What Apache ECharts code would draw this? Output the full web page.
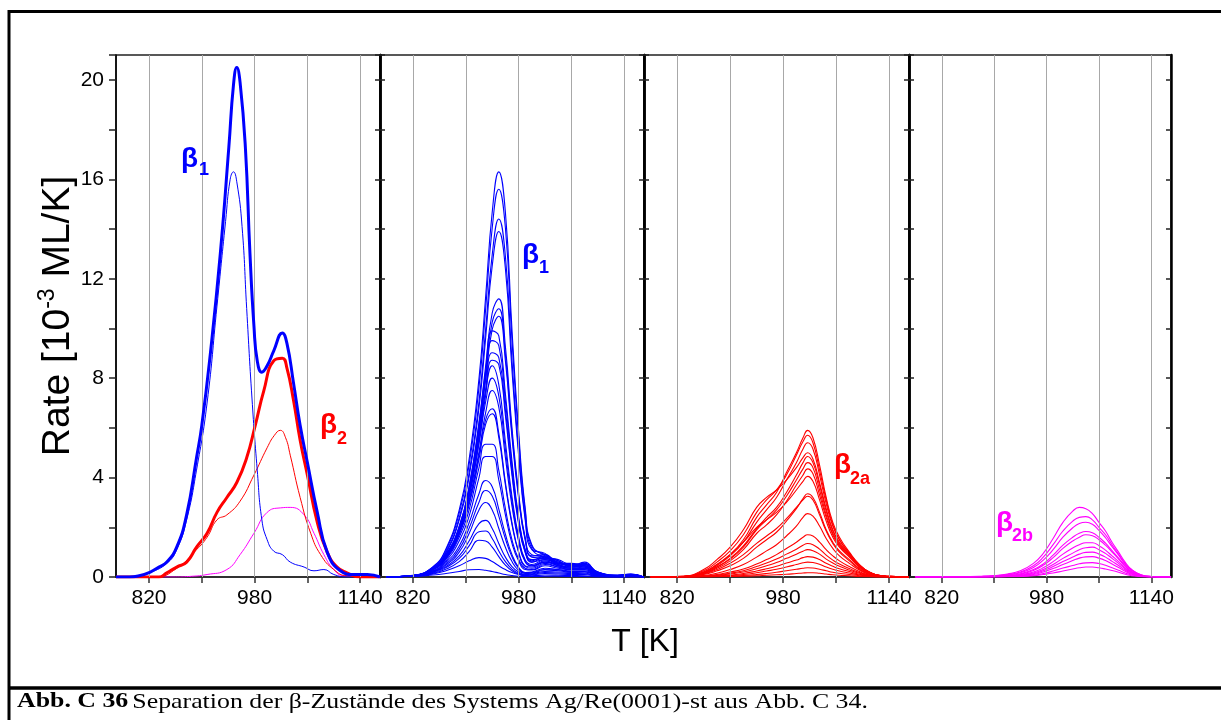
<!DOCTYPE html>
<html>
<head>
<meta charset="utf-8">
<script src="https://cdn.jsdelivr.net/npm/echarts@6/dist/echarts.min.js"></script>
<style>
html,body{margin:0;padding:0;background:#fff;}
#chart{width:1221px;height:720px;}
</style>
</head>
<body>
<div id="chart"></div>
<script>
// ---------- Data ----------
const xTickValues = [820, 900, 980, 1060, 1140];
const xLabelValues = [820, 980, 1140];

// Panel 1 (total and separated states)
const p1ThickBlueT = [770, 790, 805, 822, 835, 847, 862, 877, 892, 900, 913, 928, 941, 948, 953, 958, 966, 973, 979, 984, 991, 999, 1009, 1022, 1029, 1039, 1049, 1060, 1075, 1090, 1110, 1130, 1151, 1170];
const p1ThickBlue  = [0, 0, 0.05, 0.2, 0.4, 0.6, 1.2, 2.5, 4.8, 6.1, 9.0, 13.0, 17.3, 19.8, 20.5, 19.9, 17.3, 13.0, 10.1, 8.7, 8.24, 8.5, 9.1, 9.82, 9.4, 7.8, 6.1, 4.6, 2.6, 1.0, 0.25, 0.1, 0.1, 0];
const p1ThinBlueT = [770, 805, 822, 847, 862, 877, 892, 908, 923, 936, 943, 948, 953, 961, 968, 976, 984, 991, 999, 1009, 1022, 1034, 1055, 1070, 1085, 1100, 1120, 1170];
const p1ThinBlue  = [0, 0.05, 0.18, 0.55, 1.1, 2.3, 4.3, 7.0, 10.9, 14.3, 16.0, 16.3, 15.9, 14.1, 10.8, 7.2, 4.3, 2.3, 1.5, 1.04, 0.9, 0.6, 0.4, 0.25, 0.3, 0.1, 0, 0];
const p1ThickRedT = [770, 835, 847, 862, 877, 892, 908, 923, 938, 953, 968, 981, 994, 1009, 1022, 1029, 1039, 1049, 1060, 1075, 1090, 1105, 1120, 1140, 1170];
const p1ThickRed  = [0, 0, 0.17, 0.4, 0.6, 1.2, 1.76, 2.6, 3.2, 3.8, 4.8, 6.1, 7.5, 8.7, 8.8, 8.4, 7.1, 5.5, 4.1, 2.2, 1.0, 0.4, 0.17, 0, 0];
const p1ThinRedT = [770, 830, 862, 892, 908, 923, 938, 958, 979, 999, 1010, 1019, 1027, 1034, 1049, 1065, 1080, 1100, 1120, 1170];
const p1ThinRed  = [0, 0, 0.35, 1.1, 1.6, 2.3, 2.5, 3.05, 4.1, 5.2, 5.7, 5.9, 5.6, 4.9, 3.2, 1.76, 0.9, 0.3, 0.05, 0];
const p1MagentaT = [770, 860, 880, 908, 938, 958, 979, 999, 1019, 1034, 1055, 1070, 1085, 1100, 1115, 1170];
const p1Magenta  = [0, 0, 0.02, 0.1, 0.3, 0.9, 1.76, 2.6, 2.78, 2.8, 2.5, 1.76, 0.9, 0.3, 0.05, 0];

// Panel 2 (beta1 series)
const p2T = [780, 820, 850, 870, 890, 905, 920, 930, 940, 950, 960, 970, 980, 990, 1000, 1020, 1040, 1060, 1080, 1100, 1130, 1150, 1170];
const p2Rates = [
  [0, 0.07, 0.41, 1.14, 2.69, 4.73, 7.99, 11.25, 14.67, 16.3, 14.67, 9.94, 5.87, 2.77, 1.3, 0.85, 0.6, 0.5, 0.55, 0.2, 0.08, 0.12, 0],
  [0, 0.06, 0.39, 1.09, 2.57, 4.52, 7.64, 10.76, 14.04, 15.6, 14.04, 9.52, 5.62, 2.65, 1.25, 0.9, 0.65, 0.45, 0.6, 0.18, 0.07, 0.1, 0],
  [0, 0.06, 0.36, 1.01, 2.38, 4.18, 7.06, 9.94, 12.96, 14.4, 12.9, 8.7, 5.1, 2.4, 1.15, 0.8, 0.7, 0.5, 0.5, 0.15, 0.06, 0.1, 0],
  [0, 0.06, 0.35, 0.97, 2.29, 4.03, 6.81, 9.59, 12.51, 13.9, 12.4, 8.3, 4.9, 2.3, 1.1, 0.95, 0.55, 0.55, 0.45, 0.2, 0.05, 0.1, 0],
  [0, 0.06, 0.34, 0.9, 2.03, 3.62, 6.22, 8.48, 10.62, 11.19, 9.27, 5.99, 3.39, 1.58, 0.9, 0.8, 0.6, 0.45, 0.5, 0.2, 0.06, 0.1, 0],
  [0, 0.05, 0.33, 0.87, 1.96, 3.49, 6.0, 8.18, 10.25, 10.79, 8.94, 5.78, 3.27, 1.53, 0.85, 0.9, 0.55, 0.5, 0.45, 0.15, 0.05, 0.12, 0],
  [0, 0.05, 0.32, 0.85, 1.91, 3.39, 5.83, 7.95, 9.96, 10.49, 8.69, 5.62, 3.18, 1.48, 0.8, 0.75, 0.65, 0.4, 0.5, 0.18, 0.05, 0.08, 0],
  [0, 0.06, 0.35, 0.91, 2.02, 3.64, 6.16, 8.28, 9.9, 9.7, 7.37, 4.65, 2.42, 1.11, 0.7, 0.75, 0.55, 0.45, 0.45, 0.15, 0.05, 0.08, 0],
  [0, 0.06, 0.34, 0.87, 1.94, 3.49, 5.92, 7.95, 9.51, 9.31, 7.08, 4.46, 2.33, 1.07, 0.65, 0.85, 0.5, 0.4, 0.5, 0.15, 0.05, 0.1, 0],
  [0, 0.05, 0.32, 0.83, 1.84, 3.31, 5.61, 7.54, 9.02, 8.83, 6.72, 4.23, 2.21, 1.01, 0.6, 0.7, 0.55, 0.45, 0.4, 0.12, 0.04, 0.08, 0],
  [0, 0.05, 0.31, 0.8, 1.78, 3.2, 5.43, 7.3, 8.72, 8.54, 6.5, 4.09, 2.14, 0.98, 0.6, 0.8, 0.45, 0.4, 0.45, 0.12, 0.04, 0.06, 0],
  [0, 0.06, 0.34, 0.85, 1.96, 3.49, 5.7, 7.48, 8.5, 7.74, 5.44, 3.23, 1.62, 0.68, 0.5, 0.7, 0.5, 0.4, 0.4, 0.12, 0.04, 0.06, 0],
  [0, 0.06, 0.32, 0.8, 1.84, 3.28, 5.36, 7.04, 8.0, 7.28, 5.12, 3.04, 1.52, 0.64, 0.45, 0.6, 0.5, 0.35, 0.4, 0.1, 0.03, 0.06, 0],
  [0, 0.05, 0.3, 0.75, 1.73, 3.08, 5.03, 6.6, 7.5, 6.83, 4.8, 2.85, 1.43, 0.6, 0.45, 0.65, 0.45, 0.35, 0.35, 0.1, 0.03, 0.05, 0],
  [0, 0.05, 0.31, 0.82, 1.77, 2.99, 4.9, 6.32, 6.77, 5.78, 3.81, 2.18, 1.02, 0.44, 0.4, 0.6, 0.45, 0.35, 0.35, 0.1, 0.03, 0.05, 0],
  [0, 0.05, 0.3, 0.79, 1.72, 2.9, 4.75, 6.14, 6.57, 5.61, 3.7, 2.11, 0.99, 0.43, 0.35, 0.55, 0.4, 0.3, 0.35, 0.08, 0.02, 0.05, 0],
  [0, 0.05, 0.28, 0.72, 1.6, 2.7, 4.4, 5.34, 5.34, 4.29, 2.75, 1.49, 0.72, 0.35, 0.3, 0.5, 0.4, 0.3, 0.3, 0.08, 0.02, 0.04, 0],
  [0, 0.05, 0.25, 0.65, 1.45, 2.45, 4.0, 4.85, 4.85, 3.9, 2.5, 1.35, 0.65, 0.3, 0.28, 0.45, 0.35, 0.3, 0.3, 0.07, 0.02, 0.04, 0],
  [0, 0.05, 0.23, 0.59, 1.25, 2.18, 3.35, 3.88, 3.63, 2.73, 1.72, 0.9, 0.39, 0.18, 0.2, 0.35, 0.3, 0.25, 0.25, 0.06, 0.02, 0.03, 0],
  [0, 0.04, 0.21, 0.53, 1.12, 1.96, 3.01, 3.48, 3.26, 2.45, 1.54, 0.81, 0.35, 0.16, 0.18, 0.3, 0.28, 0.22, 0.22, 0.05, 0.02, 0.03, 0],
  [0, 0.04, 0.2, 0.48, 1.0, 1.75, 2.7, 3.0, 2.7, 1.95, 1.2, 0.62, 0.27, 0.14, 0.15, 0.28, 0.25, 0.2, 0.2, 0.05, 0.01, 0.03, 0],
  [0, 0.04, 0.18, 0.42, 0.85, 1.45, 2.15, 2.28, 1.95, 1.35, 0.8, 0.42, 0.2, 0.1, 0.12, 0.22, 0.2, 0.18, 0.16, 0.04, 0.01, 0.02, 0],
  [0, 0.04, 0.16, 0.38, 0.75, 1.25, 1.82, 1.85, 1.55, 1.05, 0.62, 0.32, 0.15, 0.08, 0.1, 0.18, 0.16, 0.14, 0.13, 0.03, 0.01, 0.02, 0],
  [0, 0.03, 0.14, 0.32, 0.62, 1.02, 1.48, 1.45, 1.2, 0.82, 0.48, 0.25, 0.12, 0.06, 0.08, 0.14, 0.12, 0.1, 0.1, 0.02, 0.01, 0.02, 0],
  [0, 0.03, 0.12, 0.25, 0.45, 0.65, 0.78, 0.75, 0.62, 0.45, 0.3, 0.18, 0.1, 0.05, 0.05, 0.08, 0.07, 0.06, 0.05, 0.01, 0, 0.01, 0],
  [0, 0.02, 0.08, 0.14, 0.22, 0.29, 0.3, 0.27, 0.22, 0.16, 0.1, 0.06, 0.03, 0.02, 0.02, 0.03, 0.03, 0.02, 0.02, 0, 0, 0, 0]
];

// Panel 3 (beta2a series)
const p3T = [780, 830, 860, 880, 900, 920, 940, 955, 970, 985, 1000, 1010, 1017, 1025, 1035, 1045, 1055, 1065, 1080, 1095, 1110, 1130, 1150, 1170];
const p3Rates = [
  [0, 0.02, 0.2, 0.5, 0.9, 1.5, 2.4, 2.9, 3.4, 4.2, 5.0, 5.6, 5.9, 5.6, 4.5, 3.2, 2.2, 1.6, 1.0, 0.5, 0.2, 0.05, 0.02, 0],
  [0, 0.03, 0.25, 0.6, 1.05, 1.7, 2.6, 3.1, 3.5, 4.1, 4.9, 5.45, 5.7, 5.4, 4.3, 3.1, 2.1, 1.5, 0.95, 0.5, 0.2, 0.05, 0.02, 0],
  [0, 0.02, 0.18, 0.45, 0.85, 1.4, 2.2, 2.7, 3.2, 3.9, 4.6, 5.15, 5.4, 5.15, 4.1, 2.95, 2.05, 1.5, 0.95, 0.5, 0.2, 0.05, 0.02, 0],
  [0, 0.03, 0.3, 0.7, 1.2, 1.9, 2.8, 3.2, 3.5, 3.9, 4.4, 4.8, 5.0, 4.75, 3.8, 2.75, 1.9, 1.4, 0.9, 0.45, 0.18, 0.05, 0.02, 0],
  [0, 0.02, 0.15, 0.4, 0.75, 1.25, 1.95, 2.4, 2.8, 3.4, 4.1, 4.6, 4.85, 4.6, 3.7, 2.65, 1.85, 1.35, 0.9, 0.45, 0.18, 0.04, 0.01, 0],
  [0, 0.02, 0.16, 0.4, 0.72, 1.2, 1.9, 2.3, 2.7, 3.25, 3.9, 4.35, 4.6, 4.4, 3.5, 2.5, 1.75, 1.3, 0.85, 0.45, 0.18, 0.04, 0.01, 0],
  [0, 0.02, 0.14, 0.35, 0.65, 1.1, 1.75, 2.1, 2.5, 3.05, 3.7, 4.1, 4.35, 4.15, 3.3, 2.4, 1.7, 1.25, 0.85, 0.42, 0.16, 0.04, 0.01, 0],
  [0, 0.03, 0.2, 0.5, 0.9, 1.4, 2.0, 2.3, 2.6, 3.0, 3.5, 3.85, 4.05, 3.85, 3.1, 2.25, 1.6, 1.2, 0.8, 0.4, 0.16, 0.04, 0.01, 0],
  [0, 0.02, 0.1, 0.25, 0.45, 0.75, 1.2, 1.5, 1.8, 2.25, 2.75, 3.15, 3.35, 3.2, 2.6, 1.9, 1.4, 1.05, 0.7, 0.35, 0.14, 0.03, 0.01, 0],
  [0, 0.02, 0.12, 0.3, 0.55, 0.9, 1.35, 1.65, 1.95, 2.35, 2.8, 3.1, 3.25, 3.1, 2.5, 1.85, 1.35, 1.0, 0.65, 0.32, 0.12, 0.03, 0.01, 0],
  [0, 0.01, 0.06, 0.15, 0.3, 0.5, 0.8, 1.05, 1.3, 1.65, 2.05, 2.4, 2.55, 2.45, 2.05, 1.55, 1.15, 0.85, 0.55, 0.28, 0.1, 0.02, 0.01, 0],
  [0, 0.01, 0.04, 0.1, 0.2, 0.32, 0.52, 0.7, 0.9, 1.15, 1.4, 1.6, 1.7, 1.65, 1.4, 1.1, 0.85, 0.65, 0.42, 0.22, 0.08, 0.02, 0, 0],
  [0, 0.01, 0.03, 0.08, 0.15, 0.25, 0.42, 0.56, 0.72, 0.92, 1.12, 1.28, 1.35, 1.3, 1.12, 0.88, 0.68, 0.52, 0.34, 0.18, 0.07, 0.02, 0, 0],
  [0, 0, 0.02, 0.06, 0.12, 0.2, 0.33, 0.45, 0.58, 0.75, 0.92, 1.04, 1.1, 1.06, 0.92, 0.72, 0.56, 0.43, 0.28, 0.15, 0.06, 0.01, 0, 0],
  [0, 0, 0.02, 0.04, 0.08, 0.14, 0.24, 0.33, 0.43, 0.56, 0.68, 0.78, 0.82, 0.8, 0.7, 0.55, 0.43, 0.33, 0.22, 0.11, 0.04, 0.01, 0, 0],
  [0, 0, 0.01, 0.03, 0.06, 0.1, 0.17, 0.24, 0.31, 0.4, 0.5, 0.57, 0.6, 0.58, 0.51, 0.4, 0.31, 0.24, 0.16, 0.08, 0.03, 0.01, 0, 0],
  [0, 0, 0.01, 0.02, 0.04, 0.06, 0.1, 0.14, 0.19, 0.25, 0.31, 0.35, 0.37, 0.36, 0.31, 0.25, 0.19, 0.15, 0.1, 0.05, 0.02, 0, 0, 0],
  [0, 0, 0, 0.01, 0.02, 0.03, 0.05, 0.07, 0.09, 0.11, 0.14, 0.16, 0.17, 0.17, 0.15, 0.12, 0.09, 0.07, 0.05, 0.02, 0.01, 0, 0, 0]
];

// Panel 4 (beta2b series)
const p4T = [780, 850, 880, 900, 920, 940, 960, 975, 990, 1005, 1020, 1030, 1040, 1050, 1060, 1070, 1080, 1090, 1100, 1110, 1125, 1140, 1170];
const p4Rates = [
  [0, 0.01, 0.03, 0.06, 0.12, 0.25, 0.55, 0.95, 1.55, 2.2, 2.65, 2.8, 2.75, 2.55, 2.2, 1.85, 1.4, 1.0, 0.6, 0.3, 0.08, 0.02, 0],
  [0, 0.01, 0.02, 0.05, 0.1, 0.2, 0.45, 0.8, 1.3, 1.85, 2.25, 2.4, 2.43, 2.3, 2.0, 1.7, 1.3, 0.92, 0.55, 0.28, 0.08, 0.02, 0],
  [0, 0.01, 0.02, 0.04, 0.08, 0.17, 0.38, 0.68, 1.1, 1.6, 1.98, 2.15, 2.2, 2.12, 1.88, 1.58, 1.22, 0.88, 0.52, 0.26, 0.07, 0.02, 0],
  [0, 0.01, 0.02, 0.03, 0.06, 0.13, 0.3, 0.53, 0.88, 1.28, 1.6, 1.76, 1.83, 1.78, 1.6, 1.36, 1.06, 0.76, 0.46, 0.22, 0.06, 0.01, 0],
  [0, 0, 0.01, 0.03, 0.05, 0.11, 0.26, 0.47, 0.78, 1.15, 1.45, 1.6, 1.7, 1.66, 1.5, 1.28, 1.0, 0.72, 0.43, 0.2, 0.05, 0.01, 0],
  [0, 0, 0.01, 0.02, 0.04, 0.09, 0.2, 0.37, 0.62, 0.92, 1.17, 1.3, 1.38, 1.38, 1.26, 1.08, 0.85, 0.62, 0.37, 0.18, 0.05, 0.01, 0],
  [0, 0, 0.01, 0.02, 0.03, 0.07, 0.16, 0.3, 0.5, 0.75, 0.96, 1.1, 1.18, 1.2, 1.1, 0.95, 0.75, 0.55, 0.33, 0.16, 0.04, 0.01, 0],
  [0, 0, 0, 0.01, 0.03, 0.06, 0.13, 0.25, 0.42, 0.62, 0.8, 0.92, 0.99, 1.0, 0.92, 0.8, 0.63, 0.46, 0.28, 0.13, 0.04, 0.01, 0],
  [0, 0, 0, 0.01, 0.02, 0.05, 0.1, 0.2, 0.34, 0.5, 0.66, 0.76, 0.81, 0.82, 0.76, 0.66, 0.52, 0.38, 0.23, 0.11, 0.03, 0.01, 0],
  [0, 0, 0, 0.01, 0.02, 0.03, 0.07, 0.14, 0.24, 0.36, 0.46, 0.53, 0.57, 0.58, 0.54, 0.47, 0.37, 0.27, 0.16, 0.08, 0.02, 0, 0],
  [0, 0, 0, 0, 0.01, 0.02, 0.05, 0.1, 0.16, 0.24, 0.32, 0.37, 0.4, 0.4, 0.37, 0.32, 0.26, 0.19, 0.11, 0.05, 0.01, 0, 0]
];

// ---------- Chart ----------
const BLUE = '#0000ff', RED = '#ff0000', MAG = '#ff00ff';
const FONT = '"Liberation Sans", Arial, sans-serif';
const panels = [
  {left: 116, width: 264},
  {left: 380, width: 264},
  {left: 644, width: 265},
  {left: 909, width: 262}
];
const TOP = 55, HEIGHT = 522;

const grid = panels.map(p => ({left: p.left, width: p.width, top: TOP, height: HEIGHT,
  show: true, borderColor: '#222', borderWidth: 1.5, backgroundColor: 'transparent'}));

const xAxis = panels.map((p, i) => ({
  type: 'value', gridIndex: i, min: 770, max: 1170,
  axisLine: {show: true, onZero: false, lineStyle: {color: '#333', width: 2}},
  axisTick: {show: true, customValues: xTickValues, length: 6, lineStyle: {color: '#333', width: 1.5}},
  axisLabel: {show: true, customValues: xLabelValues, fontSize: 21, color: '#000', margin: 11, fontFamily: FONT,
    formatter: v => String(v)},
  splitLine: {show: false}
}));

const yAxis = [];
panels.forEach((p, i) => {
  yAxis.push({
    type: 'value', gridIndex: i, position: 'left', min: 0, max: 21, interval: 2,
    axisLine: {show: true, onZero: false, lineStyle: {color: '#000', width: i === 0 ? 1.5 : 2.5}},
    axisTick: {show: true, inside: i > 0, length: i === 0 ? 7 : 5, lineStyle: {color: '#222', width: 1.5}},
    axisLabel: {show: i === 0, fontSize: 21, color: '#000', margin: 12, fontFamily: FONT,
      formatter: v => (v % 4 === 0 && v <= 20) ? String(v) : ''},
    splitLine: {show: false}
  });
});
panels.forEach((p, i) => {
  yAxis.push({
    type: 'value', gridIndex: i, position: 'right', min: 0, max: 21, interval: 2,
    axisLine: {show: true, onZero: false, lineStyle: {color: '#000', width: 2.5}},
    axisTick: {show: true, inside: true, length: 5, lineStyle: {color: '#222', width: 1.5}},
    axisLabel: {show: false},
    splitLine: {show: false}
  });
});

function pairs(T, V) { return T.map((t, k) => [t, V[k]]); }
function lineSeries(i, T, V, color, width, z) {
  return {type: 'line', xAxisIndex: i, yAxisIndex: i, data: pairs(T, V), showSymbol: false,
    symbol: 'none', smooth: 0.5, z: z || 3, silent: true,
    lineStyle: {color: color, width: width}};
}

const series = [];
// vertical grid lines via markLine
panels.forEach((p, i) => {
  series.push({type: 'line', xAxisIndex: i, yAxisIndex: i, data: [], z: 1, silent: true,
    markLine: {silent: true, symbol: ['none', 'none'], label: {show: false}, animation: false,
      lineStyle: {color: '#a8a8a8', width: 1, type: 'solid'},
      data: xTickValues.map(v => ({xAxis: v}))}});
});

series.push(lineSeries(0, p1MagentaT, p1Magenta, MAG, 1, 3));
series.push(lineSeries(0, p1ThinRedT, p1ThinRed, RED, 1, 3));
series.push(lineSeries(0, p1ThinBlueT, p1ThinBlue, BLUE, 1, 3));
series.push(lineSeries(0, p1ThickRedT, p1ThickRed, RED, 3, 4));
series.push(lineSeries(0, p1ThickBlueT, p1ThickBlue, BLUE, 3, 5));
p2Rates.forEach(v => series.push(lineSeries(1, p2T, v, BLUE, 1.1, 3)));
p3Rates.forEach(v => series.push(lineSeries(2, p3T, v, RED, 1.1, 3)));
p4Rates.forEach(v => series.push(lineSeries(3, p4T, v, MAG, 1.1, 3)));

function label(x, y, t, color, size) {
  return {type: 'text', x: x, y: y, z: 100,
    style: {text: t, fill: color, fontSize: size, fontWeight: 'bold', fontFamily: FONT,
      textAlign: 'left', textVerticalAlign: 'middle', verticalAlign: 'middle'}};
}

const graphic = [
  {type: 'line', shape: {x1: 9, y1: 10, x2: 9, y2: 720}, style: {stroke: '#000', lineWidth: 3}, z: 100},
  {type: 'line', shape: {x1: 8, y1: 11.5, x2: 1221, y2: 11.5}, style: {stroke: '#000', lineWidth: 3}, z: 100},
  {type: 'line', shape: {x1: 8, y1: 688, x2: 1221, y2: 688}, style: {stroke: '#000', lineWidth: 3.5}, z: 100},
  label(181, 159, 'β', BLUE, 28), label(199, 170, '1', BLUE, 18),
  label(320, 425, 'β', RED, 28), label(337, 439, '2', RED, 18),
  label(522, 255, 'β', BLUE, 28), label(539, 268, '1', BLUE, 18),
  label(834, 465, 'β', RED, 28), label(850, 479, '2a', RED, 18),
  label(996, 523, 'β', MAG, 28), label(1012, 536, '2b', MAG, 18),
  {type: 'text', x: 645, y: 642, z: 100,
    style: {text: 'T [K]', fill: '#000', fontSize: 32, fontFamily: FONT,
      textAlign: 'center', textVerticalAlign: 'middle', verticalAlign: 'middle'}},
  {type: 'text', x: 55, y: 316, rotation: Math.PI / 2, z: 100,
    style: {text: '{a|Rate [10}{s|-3}{a| ML/K]}', fill: '#000', fontFamily: FONT,
      textAlign: 'center', textVerticalAlign: 'middle', verticalAlign: 'middle',
      rich: {a: {fontSize: 39, fontFamily: FONT, lineHeight: 46, verticalAlign: 'bottom'},
             s: {fontSize: 23, fontFamily: FONT, lineHeight: 46, verticalAlign: 'top', padding: [4, 0, 0, 0]}}}},
  {type: 'text', x: 17, y: 702, scaleX: 1.23, z: 100,
    style: {text: '{b|Abb. C 36} {n|Separation der β-Zustände des Systems Ag/Re(0001)-st aus Abb. C 34.}',
      fill: '#000', textAlign: 'left', textVerticalAlign: 'middle', verticalAlign: 'middle',
      rich: {b: {fontSize: 21, fontWeight: 'bold', fontFamily: '"Liberation Serif", serif'},
             n: {fontSize: 21, fontFamily: '"Liberation Serif", serif'}}}}
];

const chart = echarts.init(document.getElementById('chart'), null, {renderer: 'canvas'});
chart.setOption({
  animation: false,
  backgroundColor: '#fff',
  grid: grid, xAxis: xAxis, yAxis: yAxis, series: series, graphic: graphic
});
</script>
</body>
</html>
